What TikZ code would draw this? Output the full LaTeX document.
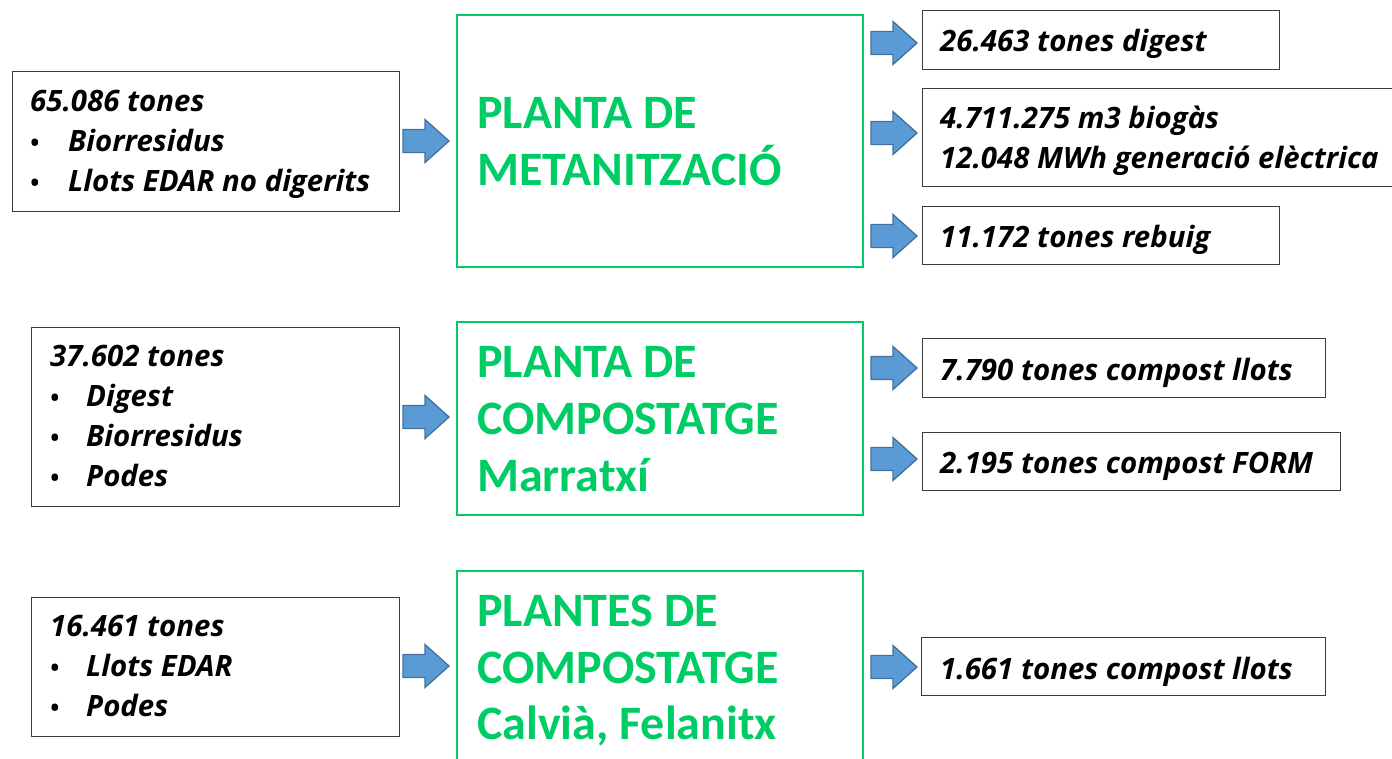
\documentclass[tikz,border=0pt]{standalone}
\usepackage{fontspec}
\setmainfont{Open Sans}
\newfontfamily\calib{Carlito}
\definecolor{grn}{HTML}{00CC66}
\definecolor{afill}{HTML}{5B9BD5}
\definecolor{aline}{HTML}{41719C}
\definecolor{bline}{HTML}{3A3A3A}
\begin{document}
\begin{tikzpicture}[x=1pt,y=-1pt,
  inbox/.style={draw=bline, line width=1.3pt, inner sep=0pt, anchor=north west},
  plant/.style={draw=grn, line width=1.8pt, inner sep=0pt, anchor=north west},
  txt/.style={inner sep=0pt, anchor=base west, font=\fontsize{29.4}{40}\selectfont\bfseries\itshape},
  bul/.style={inner sep=0pt, anchor=base, font=\fontsize{24}{40}\selectfont\bfseries},
  ttl/.style={inner sep=0pt, anchor=base west, text=grn, font=\fontsize{48}{56}\selectfont\calib\bfseries},
  arrowstyle/.style={draw=aline, fill=afill, line width=1.3pt, line join=miter},
  barrow/.pic={\path[arrowstyle] (-46,-11.5) -- (-24,-11.5) -- (-24,-21.5) -- (0,0)
       -- (-24,21.5) -- (-24,11.5) -- (-46,11.5) -- cycle;},
]
\useasboundingbox (0,0) rectangle (1392,759);

% ---- input boxes
\node[inbox, minimum width=387pt, minimum height=140pt] (in1) at (12,71) {};
\node[txt] (in1t) at (30,112) {65.086 tones};
\node[bul] (in1b1) at (35,152) {\textbullet};
\node[txt] (in1a) at (68,152) {Biorresidus};
\node[bul] (in1b2) at (35,192) {\textbullet};
\node[txt] (in1c) at (68,192) {Llots EDAR no digerits};

\node[inbox, minimum width=368pt, minimum height=179pt] (in2) at (31,327) {};
\node[txt] (in2t) at (50,366) {37.602 tones};
\node[bul] (in2b1) at (55,406) {\textbullet};
\node[txt] (in2a) at (86,406) {Digest};
\node[bul] (in2b2) at (55,446) {\textbullet};
\node[txt] (in2c) at (86,446) {Biorresidus};
\node[bul] (in2b3) at (55,486) {\textbullet};
\node[txt] (in2d) at (86,486) {Podes};

\node[inbox, minimum width=368pt, minimum height=139pt] (in3) at (31,597) {};
\node[txt] (in3t) at (50,636) {16.461 tones};
\node[bul] (in3b1) at (55,676) {\textbullet};
\node[txt] (in3a) at (86,676) {Llots EDAR};
\node[bul] (in3b2) at (55,716) {\textbullet};
\node[txt] (in3c) at (86,716) {Podes};

% ---- plants
\node[plant, minimum width=406pt, minimum height=252pt] (p1) at (456,14) {};
\node[ttl] (p1a) at (477,129) {PLANTA DE};
\node[ttl] (p1b) at (477,186) {METANITZACIÓ};

\node[plant, minimum width=406pt, minimum height=193pt] (p2) at (456,321) {};
\node[ttl] (p2a) at (477,377) {PLANTA DE};
\node[ttl] (p2b) at (477,434) {COMPOSTATGE};
\node[ttl] (p2c) at (477,491) {Marratxí};

\node[plant, minimum width=406pt, minimum height=200pt] (p3) at (456,570) {};
\node[ttl] (p3a) at (477,626) {PLANTES DE};
\node[ttl] (p3b) at (477,683) {COMPOSTATGE};
\node[ttl] (p3c) at (477,739) {Calvià, Felanitx};

% ---- output boxes
\node[inbox, minimum width=357pt, minimum height=59pt] (o1) at (922,10) {};
\node[txt] (o1t) at (940,52) {26.463 tones digest};
\node[inbox, minimum width=480pt, minimum height=98pt] (o2) at (922,88) {};
\node[txt] (o2a) at (940,129) {4.711.275 m3 biogàs};
\node[txt] (o2b) at (940,169) {12.048 MWh generació elèctrica};
\node[inbox, minimum width=357pt, minimum height=58pt] (o3) at (922,206) {};
\node[txt] (o3t) at (940,248) {11.172 tones rebuig};
\node[inbox, minimum width=403pt, minimum height=59pt] (o4) at (922,338) {};
\node[txt] (o4t) at (940,380) {7.790 tones compost llots};
\node[inbox, minimum width=418pt, minimum height=58pt] (o5) at (922,432) {};
\node[txt] (o5t) at (940,473) {2.195 tones compost FORM};
\node[inbox, minimum width=404pt, minimum height=58pt] (o6) at (921,637) {};
\node[txt] (o6t) at (940,679) {1.661 tones compost llots};

% ---- arrows
\pic (a1) at (449,141) {barrow};
\pic (a2) at (449,417) {barrow};
\pic (a3) at (449,666) {barrow};
\pic (b1) at (917,43) {barrow};
\pic (b2) at (917,133) {barrow};
\pic (b3) at (917,236) {barrow};
\pic (b4) at (917,368) {barrow};
\pic (b5) at (917,459) {barrow};
\pic (b6) at (917,667) {barrow};
\end{tikzpicture}
\end{document}
